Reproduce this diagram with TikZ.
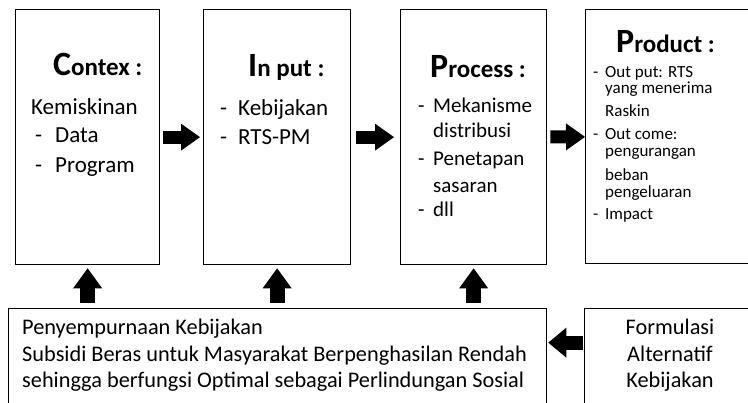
\documentclass[tikz,border=0pt]{standalone}
\usepackage{fontspec}
\setmainfont{Carlito}
\usetikzlibrary{arrows.meta}

\tikzset{
  box/.style={draw, line width=1.3pt, anchor=north west, inner sep=0pt},
  title/.style={anchor=base west, inner sep=0pt, font=\bfseries},
  body/.style={anchor=base west, inner sep=0pt, font=\fontsize{21}{25}\selectfont},
  large/.style={anchor=base west, inner sep=0pt, font=\fontsize{23}{27}\selectfont},
  small/.style={anchor=base west, inner sep=0pt, font=\fontsize{17}{20}\selectfont},
  hbig/.style={line width=13pt, -{Triangle[length=19pt,width=27pt,line width=0pt]}},
  vbig/.style={line width=15pt, -{Triangle[length=20pt,width=29pt,line width=0pt]}},
}
\newcommand{\bigtitle}[2]{{\fontsize{34}{34}\selectfont #1}{\fontsize{25}{25}\selectfont #2}}

\begin{document}
\begin{tikzpicture}[x=1pt, y={(0pt,-1pt)}]
    \useasboundingbox (0,0) rectangle (748,403);

    % Top row of boxes
    \node [box, minimum width=144pt, minimum height=255pt] (contex) at (15,9) {};
    \node [box, minimum width=147pt, minimum height=255pt] (input) at (203,9) {};
    \node [box, minimum width=146pt, minimum height=255pt] (process) at (400,9) {};
    \node [box, minimum width=180pt, minimum height=254pt] (product) at (585,9) {};

    % Bottom row of boxes
    \node [box, minimum width=538pt, minimum height=130pt] (policy) at (8,308) {};
    \node [box, minimum width=172pt, minimum height=130pt] (formula) at (584,308) {};

    % Titles
    \node [title] (contex-t) at (53,76) {\bigtitle{C}{ontex :}};
    \node [title] (input-t) at (248,77) {\bigtitle{I}{n put :}};
    \node [title] (process-t) at (430,78) {\bigtitle{P}{rocess :}};
    \node [title] (product-t) at (616,53) {\bigtitle{P}{roduct :}};

    % Contex
    \node [large] (ctx1) at (31,115) {Kemiskinan};
    \node [large] (ctx2) at (35,143) {\makebox[20pt][l]{-}Data};
    \node [large] (ctx3) at (35,173) {\makebox[20pt][l]{-}Program};

    % In put
    \node [large] (inp1) at (220,116) {\makebox[18pt][l]{-}Kebijakan};
    \node [large] (inp2) at (220,145) {\makebox[18pt][l]{-}RTS-PM};

    % Process
    \node [body] (prc1) at (418,113) {\makebox[15pt][l]{-}Mekanisme};
    \node [body] (prc2) at (433,138) {distribusi};
    \node [body] (prc3) at (418,166) {\makebox[15pt][l]{-}Penetapan};
    \node [body] (prc4) at (433,193) {sasaran};
    \node [body] (prc5) at (418,217) {\makebox[15pt][l]{-}dll};

    % Product
    \node [small] (prd1) at (593,78) {\makebox[12pt][l]{-}Out put: RTS};
    \node [small] (prd2) at (605,94) {yang menerima};
    \node [small] (prd3) at (605,117) {Raskin};
    \node [small] (prd4) at (593,140) {\makebox[12pt][l]{-}Out come:};
    \node [small] (prd5) at (605,157) {pengurangan};
    \node [small] (prd6) at (605,181) {beban};
    \node [small] (prd7) at (605,198) {pengeluaran};
    \node [small] (prd8) at (593,220) {\makebox[12pt][l]{-}Impact};

    % Bottom texts
    \node [body, font=\fontsize{22.3}{26}\selectfont] (pol1) at (22,335) {Penyempurnaan Kebijakan};
    \node [body, font=\fontsize{22.3}{26}\selectfont] (pol2) at (22,362) {Subsidi Beras untuk Masyarakat Berpenghasilan Rendah};
    \node [body, font=\fontsize{22.3}{26}\selectfont] (pol3) at (22,388) {sehingga berfungsi Optimal sebagai Perlindungan Sosial};
    \node [body, anchor=base, font=\fontsize{22.3}{26}\selectfont] (frm1) at (670,335) {Formulasi};
    \node [body, anchor=base, font=\fontsize{22.3}{26}\selectfont] (frm2) at (670,362) {Alternatif};
    \node [body, anchor=base, font=\fontsize{22.3}{26}\selectfont] (frm3) at (670,388) {Kebijakan};

    % Arrows
    \draw [hbig, shorten <=3pt, shorten >=3pt] (contex) -- (input);
    \draw [hbig, shorten <=5pt, shorten >=6pt] (input) -- (process);
    \draw [hbig, shorten <=3pt, shorten >=0pt] (process) -- (product);
    \draw [vbig, shorten <=5pt, shorten >=3pt] (contex.south |- policy.north) -- (contex.south);
    \draw [vbig, shorten <=5pt, shorten >=3pt] (input.south |- policy.north) -- (input.south);
    \draw [vbig, shorten <=5pt, shorten >=3pt] (process.south |- policy.north) -- (process.south);
    \coordinate (back) at ([yshift=31pt]formula.west);
    \draw [line width=14pt, -{Triangle[length=18pt,width=30pt,line width=0pt]}, shorten <=1pt, shorten >=1pt] (back) -- (back -| policy.east);
\end{tikzpicture}
\end{document}
